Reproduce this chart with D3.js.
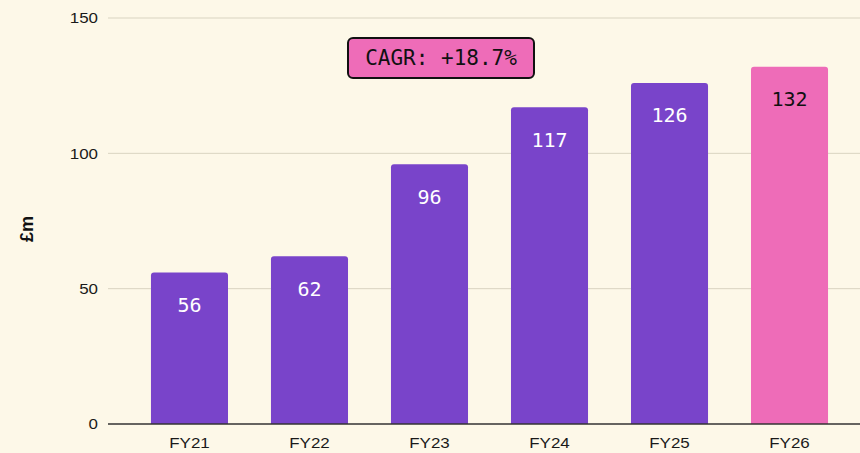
<!DOCTYPE html>
<html>
<head>
<meta charset="utf-8">
<script src="https://cdn.jsdelivr.net/npm/d3@7"></script>
<style>
  html, body { margin: 0; padding: 0; background: #fdf8e8; }
  svg { display: block; }
</style>
</head>
<body>
<div id="chart"></div>
<script>
// --- Data ---
const years = ['FY21', 'FY22', 'FY23', 'FY24', 'FY25', 'FY26'];
const revenue = [56, 62, 96, 117, 126, 132];
const forecast = [false, false, false, false, false, true];
const yTicks = [0, 50, 100, 150];
const cagrLabel = 'CAGR: +18.7%';

const width = 860;
const height = 453;
const margin = { top: 18, right: 0, bottom: 29, left: 108 };
const stretch = 1.13; // axis text in the reference is a little wide

const svg = d3.select('#chart').append('svg')
  .attr('width', width)
  .attr('height', height);

svg.append('rect').attr('width', width).attr('height', height).attr('fill', '#fdf8e8');

const x = d3.scaleBand()
  .domain(years)
  .range([margin.left, 871])
  .paddingInner(0.358)
  .paddingOuter(0.358);

const y = d3.scaleLinear()
  .domain([0, 150])
  .range([height - margin.bottom, margin.top]);

// gridlines
svg.append('g')
  .selectAll('line')
  .data(yTicks.filter(d => d > 0))
  .join('line')
  .attr('x1', margin.left)
  .attr('x2', width)
  .attr('y1', d => y(d))
  .attr('y2', d => y(d))
  .attr('stroke', '#d9d4c1')
  .attr('stroke-width', 1);

// y axis labels
const yAxis = svg.append('g')
  .attr('transform', `translate(${margin.left},0)`)
  .call(d3.axisLeft(y).tickValues(yTicks).tickSize(0).tickPadding(10));
yAxis.select('.domain').remove();
yAxis.selectAll('text')
  .attr('x', 0)
  .attr('transform', `translate(-10,0) scale(${stretch},1)`)
  .attr('font-family', 'Liberation Sans, Arial, sans-serif')
  .attr('font-size', 15)
  .attr('fill', '#1a1a1a');

// y title
svg.append('text')
  .attr('transform', `translate(33,${y(72)}) rotate(-90)`)
  .attr('text-anchor', 'middle')
  .attr('font-family', 'Liberation Sans, Arial, sans-serif')
  .attr('font-weight', 'bold')
  .attr('font-size', 18)
  .attr('fill', '#111')
  .text('£m');

// bars with rounded tops
const r = 3;
function barPath(d, i) {
  const x0 = x(years[i]);
  const w = x.bandwidth();
  const y0 = y(d);
  const yb = y(0);
  return `M${x0},${yb}V${y0 + r}Q${x0},${y0} ${x0 + r},${y0}H${x0 + w - r}Q${x0 + w},${y0} ${x0 + w},${y0 + r}V${yb}Z`;
}

svg.append('g')
  .selectAll('path')
  .data(revenue)
  .join('path')
  .attr('d', barPath)
  .attr('fill', (d, i) => (forecast[i] ? '#ee6cb8' : '#7944ca'));

// value labels
svg.append('g')
  .selectAll('text')
  .data(revenue)
  .join('text')
  .attr('x', (d, i) => x(years[i]) + x.bandwidth() / 2)
  .attr('y', d => y(d) + 34)
  .attr('text-anchor', 'middle')
  .attr('dominant-baseline', 'middle')
  .attr('font-family', 'DejaVu Sans Mono, monospace')
  .attr('font-size', 20)
  .attr('fill', (d, i) => (forecast[i] ? '#111' : '#fff'))
  .text(d => d);

// baseline axis
svg.append('line')
  .attr('x1', margin.left)
  .attr('x2', width)
  .attr('y1', y(0))
  .attr('y2', y(0))
  .attr('stroke', '#333')
  .attr('stroke-width', 1.5);

// x axis labels
const xAxis = svg.append('g')
  .attr('transform', `translate(0,${y(0)})`)
  .call(d3.axisBottom(x).tickSize(0).tickPadding(13));
xAxis.select('.domain').remove();
xAxis.selectAll('text')
  .attr('transform', `scale(${stretch},1)`)
  .attr('font-family', 'Liberation Sans, Arial, sans-serif')
  .attr('font-size', 15)
  .attr('fill', '#1a1a1a');

// CAGR badge
const badge = svg.append('g').attr('transform', 'translate(441,58)');
badge.append('rect')
  .attr('x', -93)
  .attr('y', -20)
  .attr('width', 186)
  .attr('height', 40)
  .attr('rx', 5)
  .attr('fill', '#ee6cb8')
  .attr('stroke', '#111')
  .attr('stroke-width', 2);
badge.append('text')
  .attr('text-anchor', 'middle')
  .attr('dominant-baseline', 'middle')
  .attr('y', 1)
  .attr('font-family', 'DejaVu Sans Mono, monospace')
  .attr('font-size', 21)
  .attr('fill', '#111')
  .text(cagrLabel);
</script>
</body>
</html>
